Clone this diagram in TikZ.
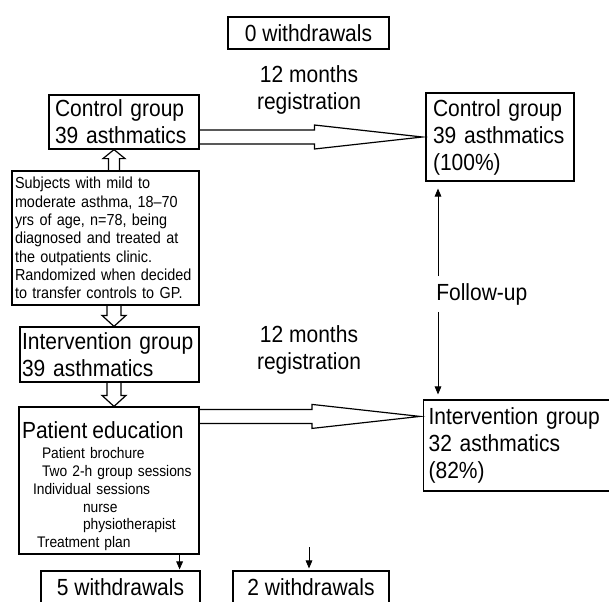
\documentclass[tikz,border=0pt]{standalone}
\usepackage{fontspec}
\setmainfont{Liberation Sans}[FakeStretch=0.9]
\usepackage{tikz}
\usetikzlibrary{arrows.meta, positioning, calc}
\newcommand{\bigfont}{\fontsize{17.5}{20.25}\selectfont}
\newcommand{\subjfont}{\fontsize{12}{13.75}\selectfont}
\newcommand{\itemfont}{\fontsize{11.5}{13.4}\selectfont}

\begin{document}
\begin{tikzpicture}[
  x=0.75pt, y=-0.75pt,
  box/.style={draw, line width=0.9pt, inner ysep=0pt, align=left, font=\bigfont},
  wbox/.style={draw, line width=0.9pt, inner sep=0pt, font=\bigfont, minimum height=24pt},
  hollow/.style={draw, line width=0.9pt},
  thinarr/.style={-{Triangle[length=6pt,width=5pt]}, line width=0.6pt},
  lbl/.style={font=\bigfont, align=center, inner sep=0pt}
]
\clip (0,0) rectangle (609,601);
\fill[white] (0,0) rectangle (609,601);

% Left column
\node[box, text width=103.5pt, inner xsep=4.5pt, minimum height=40.5pt] (cg) at (124,122) {Control group\\39 asthmatics};
\node[box, font=\subjfont, text width=135.75pt, inner xsep=2.25pt, minimum height=100.5pt] (subj) at (105.5,238)
  {Subjects with mild to\\moderate asthma, 18--70\\yrs of age, n=78, being\\diagnosed and treated at\\the outpatients clinic.\\Randomized when decided\\to transfer controls to GP.};
\node[box, text width=131.25pt, inner xsep=1.5pt, minimum height=41.25pt] (ig) at (109.5,354.5) {Intervention group\\39 asthmatics};
\node[box, font=\itemfont, text width=130.5pt, inner xsep=2.25pt, minimum height=110.25pt] (pe) at (109,480.5)
  {{\bigfont\rule{0pt}{21.5pt}Patient education}\\[1.5pt]
   \hspace*{15pt}Patient brochure\\
   \hspace*{15pt}Two 2-h group sessions\\
   \hspace*{8.25pt}Individual sessions\\
   \hspace*{45.75pt}nurse\\
   \hspace*{45.75pt}physiotherapist\\
   \hspace*{11.25pt}Treatment plan};

% Right column
\node[box, text width=100.5pt, inner xsep=5.25pt, minimum height=66pt] (cgr) at (500,137) {Control group\\39 asthmatics\\(100\%)};
\node[box, anchor=west, text width=150pt, inner xsep=3.75pt, minimum height=68.25pt] (igr) at (423,445.5) {Intervention group\\32 asthmatics\\(82\%)};

% Withdrawals
\node[wbox, minimum width=120.75pt] (w0) at (308.5,33) {0 withdrawals};
\node[wbox, minimum width=119.25pt] (w5) at (120.5,587) {5 withdrawals};
\node[wbox, minimum width=117pt] (w2) at (311,587) {2 withdrawals};

\node[lbl] (reg1) at (309,89.5) {12 months\\registration};
\node[lbl] (reg2) at (309,350) {12 months\\registration};
\node[font=\bigfont, anchor=west, inner xsep=0pt, inner ysep=5pt] (fu) at (436,294) {Follow-up};

% Hollow arrows
\coordinate (mid) at (114,0);
\draw[hollow] ($(mid |- subj.north)+(-5.5,0)$) -- ($(mid |- cg.south)+(-5.5,9)$) -- ++(-5.5,0) -- (mid |- cg.south) -- ++(11,9) -- ++(-5.5,0) -- ($(mid |- subj.north)+(5.5,0)$);
\foreach \a/\b in {subj/ig, ig/pe}{
  \draw[hollow] ($(mid |- \a.south)+(-7,0)$) -- ($(mid |- \b.north)+(-7,-11)$) -- ++(-5,0) -- (mid |- \b.north) -- ++(12,-11) -- ++(-5,0) -- ($(mid |- \a.south)+(7,0)$);
}

\coordinate (cghook) at (cg.east |- cgr.west);
\coordinate (pehook) at ($(pe.north east)+(0,10)$);
\foreach \h/\t in {cghook/cgr, pehook/igr}{
  \draw[hollow] ($(\h)+(0,-7)$) -- ($(\t.west |- \h)+(-111,-7)$) -- ++(0,-5) -- ($(\t.west |- \h)+(-3,0)$) -- ++(-108,12) -- ++(0,-5) -- ($(\h)+(0,7)$);
}

% Follow-up
\coordinate (fux) at (438,294);
\draw[thinarr] (fux |- fu.north) -- ($(fux |- cgr.south)+(0,7)$);
\draw[thinarr] (fux |- fu.south) -- ($(fux |- igr.north)+(0,-5)$);

% Drop-outs
\coordinate (w5in) at ($(pe.south east)+(-20,0)$);
\draw[thinarr] (w5in) -- ($(w5in |- w5.north)+(0,-1)$);
\coordinate (w2in) at (309,547);
\draw[thinarr] (w2in) -- ($(w2in |- w2.north)+(0,-2)$);

\end{tikzpicture}
\end{document}
